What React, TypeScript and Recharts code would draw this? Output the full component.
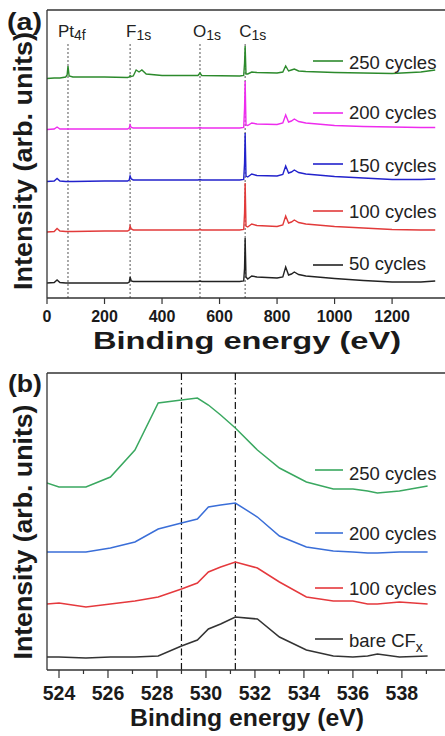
import React from "react";
import { LineChart, Line, XAxis, YAxis, ReferenceLine, ReferenceDot, Legend } from "recharts";

const FONT = '"Liberation Sans", Arial, Helvetica, sans-serif';

// (a) survey spectra, binding energy in eV
const surveyEnergy = [0, 25, 35, 45, 65, 70, 73, 77, 90, 200, 280, 286, 289, 293, 300, 310, 320, 330, 345, 400, 525, 532, 538, 670, 684, 687, 689, 692, 698, 712, 730, 800, 820, 830, 840, 850, 860, 875, 900, 1000, 1100, 1200, 1300, 1350];
const survey50 = [15, 15.5, 18, 15.5, 15, 15, 15, 15, 15, 15, 15, 16, 21, 17, 16.5, 16.5, 16.5, 16.5, 16.5, 16.5, 16.5, 17, 16.5, 16.5, 17, 30, 60, 21, 19, 22, 21, 20, 21, 31, 23, 24, 26, 23.5, 22, 19.5, 17.5, 16, 16, 17];
const survey100 = [66, 66.5, 69.5, 67, 66.5, 66.5, 66.5, 66.5, 66.5, 67, 67, 68, 72, 69, 68, 68, 68, 68, 68, 68, 68, 68.5, 68, 68, 68.5, 85, 115, 72, 71, 74, 72.5, 71.5, 73, 82, 75, 76, 78, 75.5, 74, 71.5, 70, 68.5, 68, 68];
const survey150 = [116.5, 117, 119.5, 117, 116.5, 116.5, 116.5, 116.5, 116.5, 117, 117, 118, 122, 119, 118, 118, 118, 118, 118, 118, 118, 118.5, 118, 118, 118.5, 135, 165, 122, 121, 124, 122.5, 122, 123.5, 132, 125, 126, 128, 125.5, 124, 121.5, 120, 118.5, 118.5, 119];
const survey200 = [168.5, 169, 171, 169, 169, 169, 169, 169, 169, 169, 169, 170, 173, 170.5, 170, 170, 170, 170, 170, 170, 170, 170.5, 170, 170, 170.5, 190, 217, 173, 172.5, 175, 174, 173.5, 175, 183, 176, 177, 179, 176.5, 175, 172.5, 171.5, 171, 170.5, 170.5];
const survey250 = [219.5, 220, 220, 220, 221, 223, 232, 222, 221, 221, 220.5, 221, 222.5, 221.5, 222, 228, 226, 228, 224, 222.5, 222.5, 225, 222.5, 222, 222.5, 235, 252, 224, 224, 226, 225.5, 225, 226, 232, 227, 228, 229, 227, 226.5, 225.5, 225, 224.5, 226, 228];
const surveyTicks = [0, 200, 400, 600, 800, 1000, 1200];
const peakEnergy = [73, 289, 532, 689];
const peakName = ["Pt", "F", "O", "C"];
const peakSub = ["4f", "1s", "1s", "1s"];

// (b) narrow scan
const hrEnergy = [523.5, 524.0, 525.1, 526.1, 527.1, 528.05, 529.0, 529.65, 530.1, 530.6, 531.2, 532.1, 533.0, 534.1, 535.2, 536.0, 536.6, 537.0, 537.9, 539.05];
const hrBare = [13, 13, 12, 13, 13, 14, 24, 30, 41, 46, 53, 51, 33, 20, 14, 13, 14, 16, 13, 14];
const hr100 = [66, 67, 63, 66, 69, 73, 81, 87, 98, 103, 108, 102, 88, 73, 69, 69, 66, 66, 68, 66];
const hr200 = [118, 118, 118, 122, 128, 141, 147, 151, 163, 165, 167, 153, 134, 123, 119, 118, 117, 117, 118, 118];
const hr250 = [187, 183, 183, 193, 220, 267, 270, 272, 265, 255, 242, 220, 202, 188, 181, 181, 179, 177, 179, 184];
const hrTicks = [524, 525, 526, 527, 528, 529, 530, 531, 532, 533, 534, 535, 536, 537, 538, 539];
const hrMarks = [529.0, 531.2];

const surveyData = surveyEnergy.map((e, i) => ({
  e,
  s250: survey250[i],
  s200: survey200[i],
  s150: survey150[i],
  s100: survey100[i],
  s50: survey50[i],
}));

const hrData = hrEnergy.map((e, i) => ({
  e,
  h250: hr250[i],
  h200: hr200[i],
  h100: hr100[i],
  bare: hrBare[i],
}));

const surveySeries = [
  { key: "s250", name: "250 cycles", color: "#2c8a2c" },
  { key: "s200", name: "200 cycles", color: "#ee2cee" },
  { key: "s150", name: "150 cycles", color: "#2222cc" },
  { key: "s100", name: "100 cycles", color: "#e23a3a" },
  { key: "s50", name: "50 cycles", color: "#222222" },
];

const hrSeries = [
  { key: "h250", name: "250 cycles", color: "#3aa860" },
  { key: "h200", name: "200 cycles", color: "#3a6ed8" },
  { key: "h100", name: "100 cycles", color: "#e5393d" },
  { key: "bare", name: "bare CFx", color: "#333333" },
];

const AXIS = { stroke: "#333", strokeWidth: 1.3 };

const SurveyTick = ({ x, y, payload }: any) => (
  <g>
    <line x1={x} x2={x} y1={y} y2={y + 6} stroke="#333" strokeWidth={1.2} />
    <text x={x} y={y + 24} textAnchor="middle" fontFamily={FONT} fontWeight="bold" fontSize={16} fill="#1a1a1a">
      {payload.value}
    </text>
  </g>
);

const HrTick = ({ x, y, payload }: any) => {
  const major = payload.value % 2 === 0;
  return (
    <g>
      <line x1={x} x2={x} y1={y} y2={y + (major ? 8 : 4)} stroke="#333" strokeWidth={1.2} />
      {major && (
        <text x={x} y={y + 30} textAnchor="middle" fontFamily={FONT} fontWeight="bold" fontSize={19.5} fill="#1a1a1a">
          {payload.value}
        </text>
      )}
    </g>
  );
};

const legendText = (name: string, x: number, y: number) => {
  if (name.endsWith("CFx")) {
    return (
      <text x={x} y={y} fontFamily={FONT} fontSize={18.5} fill="#222">
        {name.slice(0, -1)}
        <tspan dy={5} fontSize={14}>x</tspan>
      </text>
    );
  }
  return (
    <text x={x} y={y} fontFamily={FONT} fontSize={18.5} fill="#222">
      {name}
    </text>
  );
};

// rows: [line y, text baseline], same order as the series list
const makeLegend = (series: { name: string }[], rows: number[][], x1: number, h: number) => (props: any) => {
  const payload = props.payload || [];
  return (
    <svg width={445} height={h} style={{ display: "block" }}>
      {payload.map((p: any) => {
        const i = series.findIndex((s) => s.name === p.value);
        if (i < 0) return null;
        return (
          <g key={p.value}>
            <line x1={x1} x2={343} y1={rows[i][0]} y2={rows[i][0]} stroke={p.color} strokeWidth={1.6} />
            {legendText(String(p.value), 349, rows[i][1])}
          </g>
        );
      })}
    </svg>
  );
};

const surveyLegend = makeLegend(surveySeries, [[61, 69], [113, 119], [164, 172], [211, 218], [265, 270]], 313, 300);
const hrLegend = makeLegend(hrSeries, [[110, 120], [173, 180], [228, 235], [279, 287]], 315, 310);

const peakLabel = (i: number) => (props: any) => {
  const vb = props.viewBox || {};
  const cx = (vb.x || 0) + (vb.width || 0) / 2;
  const cy = (vb.y || 0) + (vb.height || 0) / 2;
  const dx = [-10, -4, -7, -6][i];
  return (
    <text x={cx + dx} y={cy} fontFamily={FONT} fontSize={17} fill="#222">
      {peakName[i]}
      <tspan dy={3} fontSize={14}>{peakSub[i]}</tspan>
    </text>
  );
};

const yLabel = (cy: number, len: number) => () => (
  <text
    transform={`translate(32, ${cy}) rotate(-90)`}
    textAnchor="middle"
    fontFamily={FONT}
    fontWeight="bold"
    fontSize={26}
    fill="#1a1a1a"
    textLength={len}
    lengthAdjust="spacingAndGlyphs"
  >
    Intensity (arb. units)
  </text>
);

const xLabel = (dy: number, len: number, size: number) => (props: any) => {
  const vb = props.viewBox || {};
  return (
    <text
      x={vb.x + vb.width / 2 + 1}
      y={vb.y + dy}
      textAnchor="middle"
      fontFamily={FONT}
      fontWeight="bold"
      fontSize={size}
      fill="#1a1a1a"
      textLength={len}
      lengthAdjust="spacingAndGlyphs"
    >
      Binding energy (eV)
    </text>
  );
};

export default function App() {
  return (
    <div style={{ position: "absolute", left: 0, top: 0, width: 445, height: 736, background: "#fff", overflow: "hidden" }}>
      <div style={{ position: "absolute", left: 0, top: 0 }}>
        <LineChart width={445} height={360} data={surveyData} margin={{ top: 10, right: 0, bottom: 0, left: 0 }}>
          <XAxis
            dataKey="e"
            type="number"
            domain={[0, 1384]}
            ticks={surveyTicks}
            interval={0}
            allowDataOverflow
            height={62}
            tickSize={0}
            tickMargin={0}
            tickLine={false}
            axisLine={AXIS}
            tick={<SurveyTick />}
            label={xLabel(51, 308, 24)}
          />
          <YAxis type="number" domain={[0, 288]} width={47} tick={false} tickLine={false} axisLine={AXIS} label={yLabel(161, 258)} />
          <ReferenceLine y={288} stroke="#333" strokeWidth={1.3} />
          {peakEnergy.map((e) => (
            <ReferenceLine key={e} segment={[{ x: e, y: 0 }, { x: e, y: 254 }]} stroke="#555" strokeDasharray="2 2" />
          ))}
          {peakEnergy.map((e, i) => (
            <ReferenceDot key={"p" + e} x={e} y={261} r={0} fill="none" stroke="none" label={peakLabel(i)} />
          ))}
          {surveySeries.map((s) => (
            <Line
              key={s.key}
              type="linear"
              dataKey={s.key}
              name={s.name}
              stroke={s.color}
              strokeWidth={1.4}
              dot={false}
              activeDot={false}
              isAnimationActive={false}
            />
          ))}
          <Legend layout="vertical" align="center" verticalAlign="middle" wrapperStyle={{ left: 0, top: 0 }} content={surveyLegend} />
        </LineChart>
      </div>

      <div style={{ position: "absolute", left: 0, top: 360 }}>
        <LineChart width={445} height={376} data={hrData} margin={{ top: 13, right: 0, bottom: 0, left: 0 }}>
          <XAxis
            dataKey="e"
            type="number"
            domain={[523.51, 539.76]}
            ticks={hrTicks}
            interval={0}
            allowDataOverflow
            height={66}
            tickSize={0}
            tickMargin={0}
            tickLine={false}
            axisLine={AXIS}
            tick={<HrTick />}
            label={xLabel(56, 234, 24.5)}
          />
          <YAxis type="number" domain={[0, 297]} width={47} tick={false} tickLine={false} axisLine={AXIS} label={yLabel(172, 255)} />
          <ReferenceLine y={297} stroke="#333" strokeWidth={1.3} />
          {hrMarks.map((e) => (
            <ReferenceLine key={e} x={e} stroke="#111" strokeWidth={1.2} strokeDasharray="7 3 1.5 3" />
          ))}
          {hrSeries.map((s) => (
            <Line
              key={s.key}
              type="linear"
              dataKey={s.key}
              name={s.name}
              stroke={s.color}
              strokeWidth={1.5}
              dot={false}
              activeDot={false}
              isAnimationActive={false}
            />
          ))}
          <Legend layout="vertical" align="center" verticalAlign="middle" wrapperStyle={{ left: 0, top: 0 }} content={hrLegend} />
        </LineChart>
      </div>

      <svg width={445} height={736} style={{ position: "absolute", left: 0, top: 0, pointerEvents: "none" }}>
        <text x={7} y={30} fontFamily={FONT} fontWeight="bold" fontSize={24} fill="#1a1a1a" textLength={35} lengthAdjust="spacingAndGlyphs">
          (a)
        </text>
        <text x={8} y={392} fontFamily={FONT} fontWeight="bold" fontSize={24} fill="#1a1a1a" textLength={34} lengthAdjust="spacingAndGlyphs">
          (b)
        </text>
      </svg>
    </div>
  );
}
